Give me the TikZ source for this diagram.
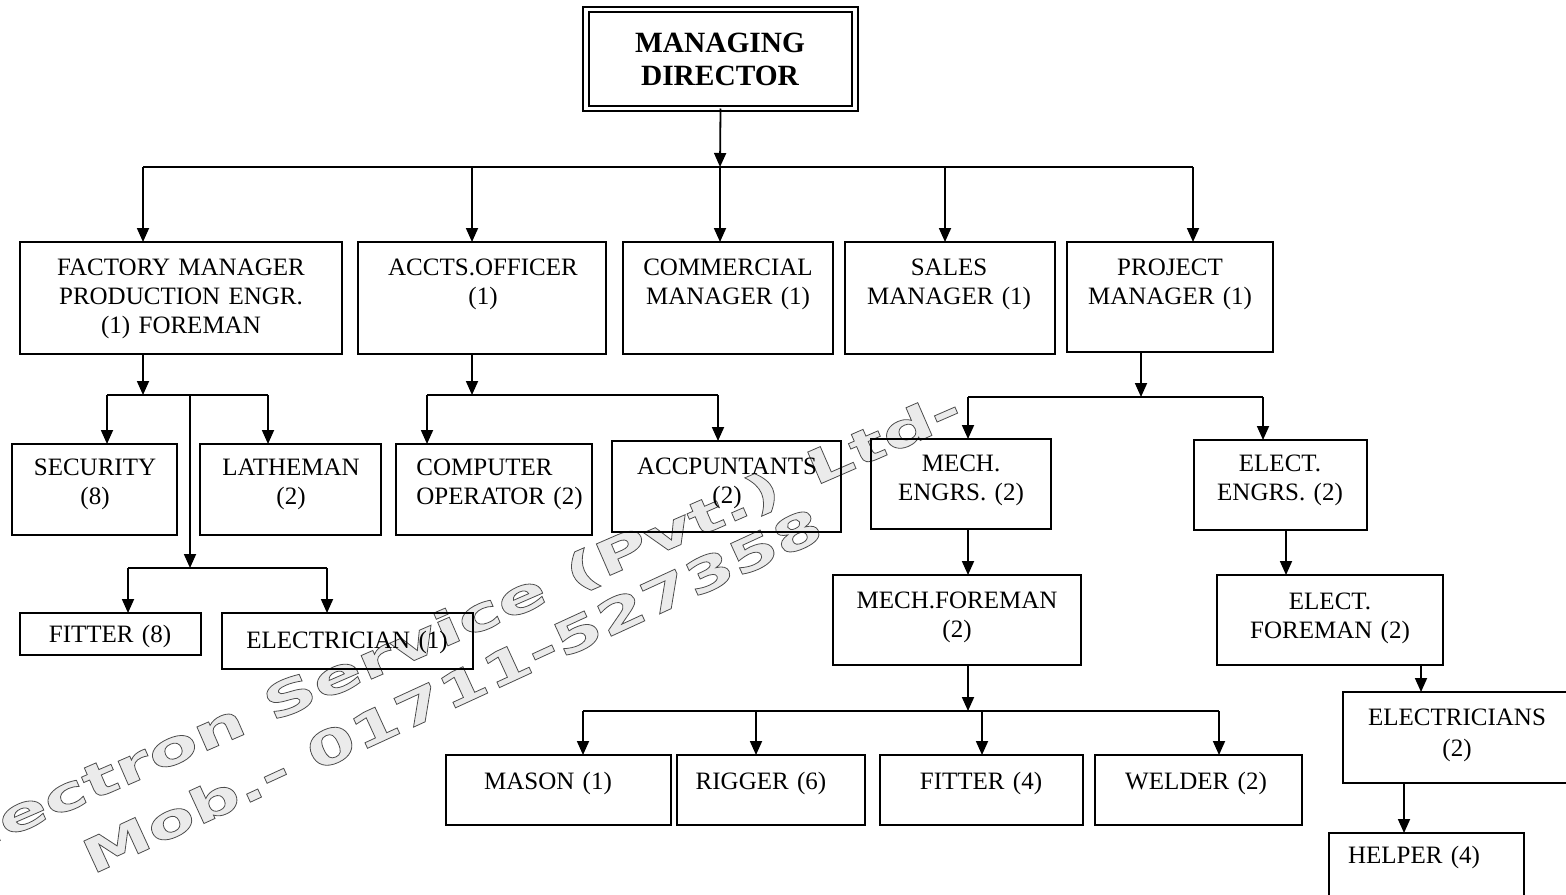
\documentclass[tikz,border=0pt]{standalone}
\usepackage{fontspec}
\setmainfont{Liberation Serif}
\newfontfamily\wmfonta{DejaVu Sans}[FakeStretch=1.55]
\newfontfamily\wmfontb{DejaVu Sans}[FakeStretch=1.48]
\usetikzlibrary{arrows.meta}
\tikzset{
 box/.style={draw, line width=1pt, inner sep=0pt, outer sep=0pt},
 lbl/.style={inner sep=0pt, align=center, font=\fontsize{12.5}{14.6}\selectfont},
 arr/.style={line width=0.9pt, -{Triangle[length=7pt,width=6pt]}},
 conn/.style={line width=0.9pt},
 wm/.style={inner sep=0pt, anchor=base west, text=black!8}
}
\newcommand\orgbox[5]{\pgfmathsetmacro\obw{(#4-#2)/2}\pgfmathsetmacro\obh{(#5-#3)/2}\node[box, anchor=north west, minimum width=\obw pt, minimum height=\obh pt] (#1) at (#2,#3) {};}
\newcommand\orgtext[5]{\node[lbl, text width=#4, anchor=base] (#1) at ({#2},{#3+8.3}) {#5};}
\newcommand\outl[1]{\special{pdf:literal direct 2 Tr 0.4 w 0.3 G}#1\special{pdf:literal direct 0 Tr 0 G}}
\begin{document}
\begin{tikzpicture}[x=0.5pt,y=-0.5pt]
\useasboundingbox (0,0) rectangle (1566,894);
\clip (0,0) rectangle (1566,894);
% watermark (underneath)
\node[wm, rotate=23.5, font=\wmfonta\bfseries\fontsize{23.5}{26}\selectfont] (wmone) at (-63,868) {\outl{Electron Service (Pvt.) Ltd-}};
\node[wm, rotate=24.7, font=\wmfontb\bfseries\fontsize{23.5}{26}\selectfont] (wmtwo) at (92,875) {\outl{Mob.- 01711-527358}};
% top
\node[draw, double, double distance=1.6pt, line width=1pt, inner sep=0pt, outer sep=0pt, anchor=north west, minimum width=134.5pt, minimum height=49.5pt] (md) at (586,9.5) {};
\node[inner sep=0pt, align=center, text width=130pt, anchor=base, font=\bfseries\fontsize{14.7}{17}\selectfont] (mdt) at (720,52) {MANAGING\\DIRECTOR};
% boxes
\orgbox{fm}{20}{242}{342}{354}
\orgbox{ao}{358}{242}{606}{354}
\orgbox{cm}{623}{242}{833}{354}
\orgbox{sm}{845}{242}{1055}{354}
\orgbox{pm}{1067}{242}{1273}{352}
\orgbox{sec}{12}{444}{177}{535}
\orgbox{lat}{200}{444}{381}{535}
\orgbox{co}{396}{444}{592}{535}
\orgbox{acc}{612}{441}{841}{532}
\orgbox{me}{871}{439}{1051}{529}
\orgbox{ee}{1194}{440}{1367}{530}
\orgbox{fiteight}{20}{613}{201}{655}
\orgbox{elone}{222}{613}{473}{669}
\orgbox{mf}{833}{575}{1081}{665}
\orgbox{ef}{1217}{575}{1443}{665}
\orgbox{mas}{446}{755}{671}{825}
\orgbox{rig}{677}{755}{865}{825}
\orgbox{fitfour}{880}{755}{1083}{825}
\orgbox{wel}{1095}{755}{1302}{825}
\orgbox{els}{1343}{692}{1572}{783}
\orgbox{hel}{1329}{833}{1524}{900}
% texts
\orgtext{fmt}{181}{267}{155pt}{FACTORY MANAGER\\PRODUCTION ENGR.\\(1) FOREMAN}
\orgtext{aot}{483}{267}{120pt}{ACCTS.OFFICER\\(1)}
\orgtext{cmt}{728}{267}{103pt}{COMMERCIAL\\MANAGER (1)}
\orgtext{smt}{949}{267}{103pt}{SALES\\MANAGER (1)}
\orgtext{pmt}{1170}{267}{100pt}{PROJECT\\MANAGER (1)}
\orgtext{sect}{95}{467}{80pt}{SECURITY\\(8)}
\orgtext{latt}{291}{467}{88pt}{LATHEMAN\\(2)}
\node[lbl, align=left, text width=92pt, anchor=base west] (cot) at (416,475.3) {COMPUTER\\OPERATOR (2)};
\orgtext{acct}{727}{466}{112pt}{ACCPUNTANTS\\(2)}
\orgtext{met}{961}{463}{88pt}{MECH.\\ENGRS. (2)}
\orgtext{eet}{1280}{463}{85pt}{ELECT.\\ENGRS. (2)}
\orgtext{fiteightt}{110}{634}{88pt}{FITTER (8)}
\orgtext{elonet}{347}{640}{124pt}{ELECTRICIAN (1)}
\orgtext{mft}{957}{600}{122pt}{MECH.FOREMAN\\(2)}
\orgtext{eft}{1330}{601}{112pt}{ELECT.\\FOREMAN (2)}
\orgtext{mast}{548}{781}{110pt}{MASON (1)}
\orgtext{rigt}{761}{781}{92pt}{RIGGER (6)}
\orgtext{fitfourt}{981}{781}{100pt}{FITTER (4)}
\orgtext{welt}{1196}{781}{102pt}{WELDER (2)}
\orgtext{elst}{1457}{717}{110pt}{ELECTRICIANS\\[1pt](2)}
\orgtext{helt}{1414}{855}{95pt}{HELPER (4)}
% connector coordinates
\coordinate (top) at (720,167);
\coordinate (t1) at (143,167);
\coordinate (t2) at (472,167);
\coordinate (t3) at (720,167);
\coordinate (t4) at (945,167);
\coordinate (t5) at (1193,167);
\coordinate (f0) at (143,395);
\coordinate (fa) at (107,395);
\coordinate (fb) at (268,395);
\coordinate (fc) at (190,395);
\coordinate (fd) at (190,568);
\coordinate (fe) at (128,568);
\coordinate (ff) at (327,568);
\coordinate (a0) at (472,395);
\coordinate (aa) at (427,395);
\coordinate (ab) at (718,395);
\coordinate (p0) at (1141,397);
\coordinate (pa) at (968,397);
\coordinate (pb) at (1263,397);
\coordinate (mx) at (968,500);
\coordinate (ex) at (1286,500);
\coordinate (m0) at (968,711);
\coordinate (ma) at (583,711);
\coordinate (mb) at (756,711);
\coordinate (mc) at (982,711);
\coordinate (mdd) at (1219,711);
\coordinate (e2) at (1421,680);
\coordinate (e3) at (1404,800);
% connectors
\draw[arr] (md.south) -- (top);
\draw[conn] (t1) -- (t5);
\draw[arr] (t1) -- (fm.north -| t1);
\draw[arr] (t2) -- (ao.north -| t2);
\draw[arr] (t3) -- (cm.north -| t3);
\draw[arr] (t4) -- (sm.north -| t4);
\draw[arr] (t5) -- (pm.north -| t5);
\draw[arr] (fm.south -| f0) -- (f0);
\draw[conn] (fa) -- (fb);
\draw[arr] (fa) -- (sec.north -| fa);
\draw[arr] (fb) -- (lat.north -| fb);
\draw[arr] (fc) -- (fd);
\draw[conn] (fe) -- (ff);
\draw[arr] (fe) -- (fiteight.north -| fe);
\draw[arr] (ff) -- (elone.north -| ff);
\draw[arr] (ao.south -| a0) -- (a0);
\draw[conn] (aa) -- (ab);
\draw[arr] (aa) -- (co.north -| aa);
\draw[arr] (ab) -- (acc.north -| ab);
\draw[arr] (pm.south -| p0) -- (p0);
\draw[conn] (pa) -- (pb);
\draw[arr] (pa) -- (me.north -| pa);
\draw[arr] (pb) -- (ee.north -| pb);
\draw[arr] (me.south -| mx) -- (mf.north -| mx);
\draw[arr] (ee.south -| ex) -- (ef.north -| ex);
\draw[arr] (mf.south -| m0) -- (m0);
\draw[conn] (ma) -- (mdd);
\draw[arr] (ma) -- (mas.north -| ma);
\draw[arr] (mb) -- (rig.north -| mb);
\draw[arr] (mc) -- (fitfour.north -| mc);
\draw[arr] (mdd) -- (wel.north -| mdd);
\draw[arr] (ef.south -| e2) -- (els.north -| e2);
\draw[arr] (els.south -| e3) -- (hel.north -| e3);
\end{tikzpicture}
\end{document}
